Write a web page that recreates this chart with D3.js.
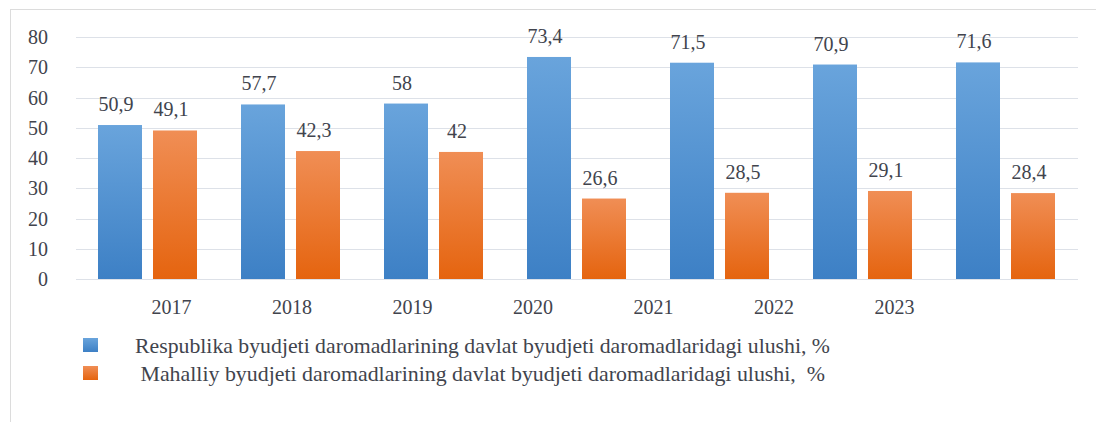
<!DOCTYPE html>
<html>
<head>
<meta charset="utf-8">
<script src="https://cdn.jsdelivr.net/npm/d3@7"></script>
<style>
  body { margin: 0; background: #fff; }
  text { font-family: 'Liberation Serif' !important; }
</style>
</head>
<body>
<div id="chart"></div>
<script>
// data
const years = ["2017", "2018", "2019", "2020", "2021", "2022", "2023"];
const respublika = [50.9, 57.7, 58, 73.4, 71.5, 70.9, 71.6];
const mahalliy = [49.1, 42.3, 42, 26.6, 28.5, 29.1, 28.4];
const yTicks = [0, 10, 20, 30, 40, 50, 60, 70, 80];
const seriesNames = [
    "Respublika byudjeti daromadlarining davlat byudjeti daromadlaridagi ulushi, %",
    " Mahalliy byudjeti daromadlarining davlat byudjeti daromadlaridagi ulushi,  %"
];

class BarChart {
    constructor(config) {
        this.config = config;
        this.svg = null;
        this.createSvg();
    }

    createSvg() {
        this.svg = d3.select(this.config.div)
            .append("svg")
            .attr("width", this.config.width)
            .attr("height", this.config.height);

        let defs = this.svg.append("defs");
        this.gradient(defs, "gBlue", "#69a4dc", "#3d80c5");
        this.gradient(defs, "gOrange", "#f08e55", "#e5640f");
    }

    gradient(defs, id, top, bottom) {
        let g = defs.append("linearGradient").attr("id", id)
            .attr("x1", 0).attr("y1", 0).attr("x2", 0).attr("y2", 1);
        g.append("stop").attr("offset", "0%").attr("stop-color", top);
        g.append("stop").attr("offset", "100%").attr("stop-color", bottom);
    }

    label(sel, size) {
        // common text look
        return sel.attr("font-family", "Liberation Serif")
            .style("font-family", "'Liberation Serif'")
            .style("font-size", (size || 20) + "px")
            .style("fill", "#41444d");
    }

    render() {
        let c = this.config;

        // frame (only top and left edges are visible)
        this.svg.append("line")
            .attr("x1", 10).attr("x2", c.width).attr("y1", 9.5).attr("y2", 9.5)
            .attr("stroke", "#dcdcdc");
        this.svg.append("line")
            .attr("x1", 10.5).attr("x2", 10.5).attr("y1", 9).attr("y2", c.height)
            .attr("stroke", "#dcdcdc");

        let y = d3.scaleLinear().domain([0, 80]).range([279, 37]);
        let x0 = d3.scaleBand().domain(years).range([76, 1077]);
        let x1 = d3.scaleBand().domain([0, 1]).range([0, x0.bandwidth()])
            .paddingInner(0.2).paddingOuter(0.4);
        // year labels are spread narrower than the bars in the original
        let xLab = d3.scalePoint().domain(years).range([171.5, 894.5]);

        // grid
        this.svg.append("g")
            .selectAll("line")
            .data(yTicks)
            .enter().append("line")
                .attr("x1", 76).attr("x2", 1078)
                .attr("y1", d => Math.round(y(d)) + 0.5)
                .attr("y2", d => Math.round(y(d)) + 0.5)
                .attr("stroke", "#dde1e8");

        // y tick labels
        this.svg.append("g")
            .selectAll("text")
            .data(yTicks)
            .enter().append("text")
                .attr("x", 48)
                .attr("y", d => y(d) + 7)
                .style("text-anchor", "end")
                .call(s => this.label(s))
                .text(d => d);

        let series = [
            {values: respublika, fill: "url(#gBlue)"},
            {values: mahalliy, fill: "url(#gOrange)"}
        ];

        series.forEach((s, k) => {
            let g = this.svg.append("g");
            g.selectAll("rect")
                .data(s.values)
                .enter().append("rect")
                    .attr("x", (d, i) => x0(years[i]) + x1(k))
                    .attr("y", d => y(d))
                    .attr("width", x1.bandwidth())
                    .attr("height", d => y(0) - y(d))
                    .attr("fill", s.fill);

            g.selectAll("text")
                .data(s.values)
                .enter().append("text")
                    .attr("x", (d, i) => x0(years[i]) + x1(k) + x1.bandwidth() / 2 - 4)
                    .attr("y", d => y(d) - 14)
                    .style("text-anchor", "middle")
                    .call(t => this.label(t))
                    .text(d => String(d).replace(".", ","));
        });

        // category labels
        this.svg.append("g")
            .selectAll("text")
            .data(years)
            .enter().append("text")
                .attr("x", d => xLab(d))
                .attr("y", 314)
                .style("text-anchor", "middle")
                .call(s => this.label(s))
                .text(d => d);

        this.renderLegend();
    }

    renderLegend() {
        let colors = ["url(#gBlue)", "url(#gOrange)"];
        let rows = [338, 366];

        seriesNames.forEach((name, i) => {
            this.svg.append("rect")
                .attr("x", 83).attr("y", rows[i])
                .attr("width", 15).attr("height", 14)
                .attr("fill", colors[i]);

            this.svg.append("text")
                .attr("x", 135)
                .attr("y", rows[i] + 15)
                .style("white-space", "pre")
                .call(s => this.label(s, 21.5))
                .attr("textLength", i == 0 ? 695 : 690)
                .attr("lengthAdjust", "spacingAndGlyphs")
                .text(name);
        });
    }
}

const chart = new BarChart({div: "#chart", width: 1096, height: 422});
chart.render();
</script>
</body>
</html>
